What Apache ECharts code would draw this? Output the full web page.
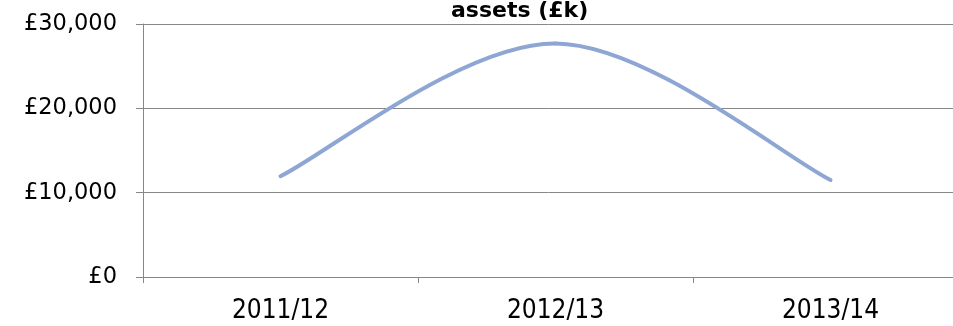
<!DOCTYPE html>
<html>
<head>
<meta charset="utf-8">
<script src="https://cdn.jsdelivr.net/npm/echarts@6/dist/echarts.min.js"></script>
<style>
  html, body { margin: 0; padding: 0; background: #ffffff; }
  #chart { width: 953px; height: 326px; }
</style>
</head>
<body>
<div id="chart"></div>
<script>
// Net assets per financial year, in £k
const years = ['2011/12', '2012/13', '2013/14'];
const assets = [11950, 27700, 11500];
const yTicks = [0, 10000, 20000, 30000];

const chart = echarts.init(document.getElementById('chart'), null, { renderer: 'canvas' });
const font = '"DejaVu Sans", Verdana, Tahoma, sans-serif';
const narrowFont = '"DejaVu Sans Condensed", "DejaVu Sans", Tahoma, sans-serif';
const gridColor = '#878787';
const lineColor = '#8ea6d4';

// Spreadsheet-style smoothed curve: cubic Bezier segments whose control
// points follow the chord between each point's neighbours (tension 1/6).
function renderCurve(params, api) {
  if (params.dataIndex !== 0) return null;
  const pts = assets.map((v, i) => api.coord([i, v]));
  const n = pts.length;
  const at = i => pts[Math.max(0, Math.min(n - 1, i))];
  const children = [];
  for (let i = 0; i < n - 1; i++) {
    const p0 = at(i - 1), p1 = at(i), p2 = at(i + 1), p3 = at(i + 2);
    children.push({
      type: 'bezierCurve',
      shape: {
        x1: p1[0], y1: p1[1],
        cpx1: p1[0] + (p2[0] - p0[0]) / 6, cpy1: p1[1] + (p2[1] - p0[1]) / 6,
        cpx2: p2[0] - (p3[0] - p1[0]) / 6, cpy2: p2[1] - (p3[1] - p1[1]) / 6,
        x2: p2[0], y2: p2[1]
      },
      style: { stroke: lineColor, lineWidth: 4, fill: null, lineCap: 'round' }
    });
  }
  return { type: 'group', children };
}

chart.setOption({
  animation: false,
  title: {
    text: 'assets (£k)',
    left: 451,
    top: 0,
    padding: 0,
    textStyle: { fontFamily: font, fontSize: 22, fontWeight: 'bold', color: '#000' }
  },
  // the plot area runs a little past the right edge of the canvas
  grid: { left: 143, right: -15, top: 24, bottom: 49, containLabel: false, outerBoundsMode: 'none' },
  xAxis: {
    type: 'category',
    data: years,
    boundaryGap: true,
    axisLine: { lineStyle: { color: gridColor, width: 1 } },
    axisTick: { show: true, length: 6, lineStyle: { color: gridColor } },
    axisLabel: { fontFamily: narrowFont, fontSize: 26, color: '#000', margin: 21 },
    splitLine: { show: false }
  },
  yAxis: {
    type: 'value',
    min: yTicks[0],
    max: yTicks[yTicks.length - 1],
    interval: yTicks[1] - yTicks[0],
    axisLine: { show: true, lineStyle: { color: gridColor, width: 1 } },
    axisTick: { show: true, length: 7, lineStyle: { color: gridColor } },
    axisLabel: {
      fontFamily: font, fontSize: 22.5, color: '#000', margin: 26,
      formatter: v => '£' + v.toLocaleString('en-GB')
    },
    splitLine: { show: true, lineStyle: { color: gridColor, width: 1 } }
  },
  series: [{
    type: 'custom',
    renderItem: renderCurve,
    data: assets.map((v, i) => [i, v]),
    clip: false
  }]
});
</script>
</body>
</html>
